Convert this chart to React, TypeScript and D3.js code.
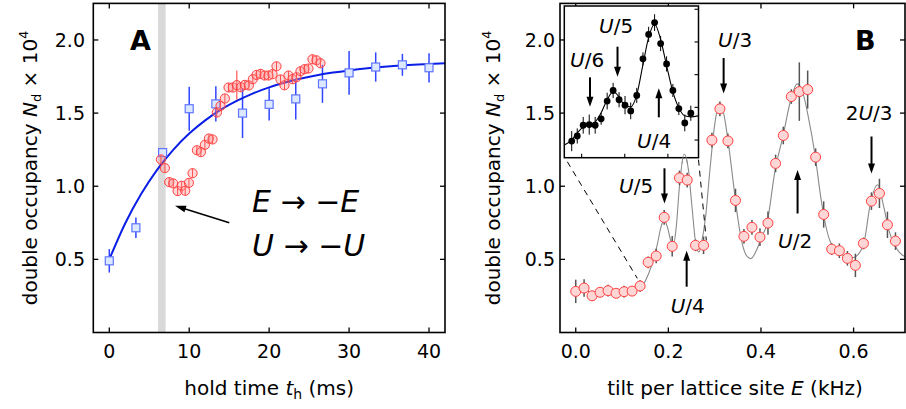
import * as d3 from "d3";

// ── Panel A: hold-time data ───────────────────────────────
const holdT   = [0, 3.33, 6.67, 10, 13.33, 16.67, 20, 23.33, 26.67, 30, 33.33, 36.67, 40];
const holdN   = [0.49, 0.716, 1.23, 1.53, 1.563, 1.5, 1.56, 1.597, 1.7, 1.775, 1.815, 1.83, 1.81];
const holdErr = [0.08, 0.07, 0.03, 0.15, 0.12, 0.17, 0.11, 0.14, 0.13, 0.15, 0.1, 0.075, 0.1];

// red circles after the sign flip
const flipT = [6.46, 6.96, 7.5, 8.0, 8.55, 9.05, 9.5, 9.96, 10.42, 10.96, 11.46, 11.96, 12.46, 12.92,
  13.46, 13.92, 14.46, 14.92, 15.46, 15.96, 16.46, 16.96, 17.46, 17.96, 18.42, 18.92, 19.42, 19.92,
  20.42, 20.92, 21.42, 21.92, 22.42, 22.92, 23.42, 23.92, 24.42, 24.92, 25.42, 25.92, 26.42];
const flipN = [1.183, 1.124, 1.028, 1.019, 0.967, 1.003, 0.969, 1.023, 1.089, 1.246, 1.233, 1.283,
  1.326, 1.32, 1.504, 1.549, 1.6, 1.675, 1.675, 1.691, 1.677, 1.693, 1.689, 1.732, 1.761, 1.768,
  1.757, 1.757, 1.766, 1.82, 1.73, 1.69, 1.757, 1.732, 1.745, 1.786, 1.8, 1.805, 1.868, 1.861, 1.841];
const flipErr = [0.03, 0.03, 0.03, 0.03, 0.03, 0.03, 0.03, 0.03, 0.03, 0.03, 0.03, 0.03, 0.03, 0.03,
  0.03, 0.03, 0.03, 0.03, 0.03, 0.1, 0.03, 0.03, 0.03, 0.03, 0.03, 0.03, 0.03, 0.03, 0.03, 0.03,
  0.03, 0.03, 0.03, 0.03, 0.03, 0.03, 0.03, 0.03, 0.03, 0.03, 0.03];

// blue fit line
const fitT = [0, 2, 4, 6, 8, 10, 12, 14, 16, 18, 20, 22, 24, 26, 28, 30, 32, 34, 36, 38, 40, 42];
const fitN = [0.5, 0.747, 0.948, 1.114, 1.249, 1.36, 1.45, 1.525, 1.585, 1.635, 1.676, 1.709,
  1.737, 1.759, 1.777, 1.792, 1.805, 1.815, 1.823, 1.83, 1.835, 1.84];

// ── Panel B: tilt spectrum ────────────────────────────────
const tiltE = [0, 0.018, 0.0352, 0.0525, 0.0698, 0.0871, 0.1044, 0.1217, 0.139, 0.1563, 0.1737,
  0.191, 0.2083, 0.224, 0.2407, 0.2587, 0.276, 0.294, 0.3113, 0.3286, 0.345, 0.3632, 0.3805,
  0.3978, 0.4151, 0.4316, 0.4482, 0.4655, 0.4828, 0.5008, 0.518, 0.5354, 0.5527, 0.5693, 0.5866,
  0.6039, 0.6212, 0.6385, 0.6558, 0.6731, 0.6904];
const tiltN = [0.281, 0.304, 0.251, 0.275, 0.286, 0.268, 0.279, 0.283, 0.318, 0.48, 0.523, 0.787,
  0.589, 1.057, 1.042, 0.596, 0.596, 1.315, 1.529, 1.31, 0.903, 0.657, 0.719, 0.652, 0.748, 1.156,
  1.347, 1.613, 1.647, 1.661, 1.199, 0.807, 0.57, 0.559, 0.507, 0.459, 0.609, 0.898, 0.951, 0.736, 0.625];
const tiltErr = [0.08, 0.06, 0.03, 0.03, 0.04, 0.03, 0.04, 0.03, 0.04, 0.04, 0.05, 0.05, 0.07, 0.05,
  0.05, 0.04, 0.06, 0.05, 0.05, 0.05, 0.08, 0.05, 0.05, 0.06, 0.08, 0.06, 0.06, 0.05, 0.2, 0.13,
  0.06, 0.09, 0.04, 0.05, 0.05, 0.08, 0.04, 0.06, 0.1, 0.09, 0.06];

// gray fit through the spectrum
const specE = [0, 0.05, 0.1, 0.13, 0.146, 0.157, 0.168, 0.176, 0.184, 0.191, 0.198, 0.205, 0.211,
  0.217, 0.224, 0.234, 0.243, 0.251, 0.26, 0.266, 0.272, 0.28, 0.29, 0.3, 0.311, 0.32, 0.329, 0.34,
  0.35, 0.36, 0.37, 0.378, 0.39, 0.4, 0.413, 0.43, 0.448, 0.465, 0.478, 0.49, 0.5008, 0.5174, 0.528,
  0.535, 0.5497, 0.5714, 0.5967, 0.605, 0.622, 0.6363, 0.652, 0.665, 0.676, 0.6904, 0.705, 0.711];
const specN = [0.28, 0.28, 0.285, 0.295, 0.33, 0.4, 0.5, 0.6, 0.72, 0.77, 0.72, 0.63, 0.6,
  0.72, 1.0, 1.22, 1.12, 0.86, 0.59, 0.55, 0.62, 0.78, 1.12, 1.42, 1.57, 1.49, 1.31, 1.03,
  0.78, 0.6, 0.52, 0.505, 0.56, 0.64, 0.746, 1.1, 1.35, 1.6, 1.7, 1.645, 1.497, 1.2, 0.95,
  0.81, 0.62, 0.541, 0.511, 0.52, 0.609, 0.882, 1.01, 0.86, 0.7, 0.586, 0.53, 0.52];

// ── Inset: zoom on the U/6 … U/4 range ────────────────────
const insE = [0.1385, 0.1449, 0.1518, 0.1588, 0.1657, 0.1726, 0.1796, 0.1865, 0.1934, 0.2003,
  0.2069, 0.2139, 0.2211, 0.2277, 0.2346, 0.2416, 0.2485, 0.2558, 0.2627, 0.2696, 0.2766];
const insN = [0.242, 0.281, 0.363, 0.368, 0.363, 0.412, 0.548, 0.629, 0.558, 0.517, 0.473, 0.591,
  0.871, 1.058, 1.148, 0.988, 0.832, 0.629, 0.491, 0.381, 0.455];
const insErr = [0.077, 0.058, 0.064, 0.077, 0.064, 0.045, 0.064, 0.058, 0.058, 0.07, 0.064, 0.058,
  0.05, 0.058, 0.064, 0.058, 0.058, 0.05, 0.05, 0.064, 0.058];
const insFitE = [0.1299, 0.1385, 0.1449, 0.1518, 0.1588, 0.1657, 0.1726, 0.1796, 0.1865, 0.1934,
  0.2003, 0.2069, 0.2139, 0.2211, 0.2277, 0.2346, 0.2416, 0.2485, 0.2558, 0.2627, 0.2696, 0.2766, 0.285];
const insFitN = [0.212, 0.25, 0.304, 0.35, 0.365, 0.388, 0.458, 0.558, 0.619, 0.581, 0.512, 0.504,
  0.596, 0.827, 1.035, 1.135, 1.019, 0.819, 0.619, 0.496, 0.435, 0.427, 0.435];

// ── Ticks ─────────────────────────────────────────────────
const nTicks   = [0.5, 1.0, 1.5, 2.0];
const tTicks   = [0, 10, 20, 30, 40];
const eTicks   = [0, 0.2, 0.4, 0.6];
const insETick = [0.15, 0.2, 0.25];
const insNTick = [0.25, 0.5, 0.75, 1.0, 1.25];

// Hubbard U in kHz, sets the resonance arrows
const U_KHZ = 0.958;

// ── Layout ────────────────────────────────────────────────
const W = 906, H = 409;
const FONT = "'DejaVu Sans', 'Liberation Sans', sans-serif";
const PA  = { left: 93.3, right: 445, top: 3.4, bottom: 332.5 };
const PB  = { left: 560, right: 905, top: 3.4, bottom: 332.5 };
const INS = { left: 564.3, right: 698.5, top: 6, bottom: 157.7 };
const TICK = 5;

const xA = d3.scaleLinear().domain([-2, 42]).range([PA.left, PA.right]);
const yN = d3.scaleLinear().domain([0, 2.25]).range([PA.bottom, PA.top]);
const xB = d3.scaleLinear().domain([-0.034, 0.711]).range([PB.left, PB.right]);
const xI = d3.scaleLinear().domain([0.1299, 0.2855]).range([INS.left, INS.right]);
const yI = d3.scaleLinear().domain([0.115, 1.275]).range([INS.bottom, INS.top]);

const lineA = d3.line<number>().x((_, i) => xA(fitT[i])).y(d => yN(d)).curve(d3.curveMonotoneX);
const lineB = d3.line<number>().x((_, i) => xB(specE[i])).y(d => yN(d)).curve(d3.curveMonotoneX);
const lineI = d3.line<number>().x((_, i) => xI(insFitE[i])).y(d => yI(d)).curve(d3.curveMonotoneX);

function Arrow({ x1, y1, x2, y2, sw = 2, hl = 10, hw = 3.5 }: any) {
  const a = Math.atan2(y2 - y1, x2 - x1);
  const c = Math.cos(a), s = Math.sin(a);
  const bx = x2 - hl * c, by = y2 - hl * s;
  const pts = [[x2, y2], [bx - hw * s, by + hw * c], [bx + hw * s, by - hw * c]];
  return (
    <g>
      <line x1={x1} y1={y1} x2={bx + c} y2={by + s} stroke="#000" strokeWidth={sw} />
      <polygon points={pts.map(p => p.join(",")).join(" ")} fill="#000" />
    </g>
  );
}

function Frac({ x, y, pre = "", den, size = 20 }: any) {
  return (
    <text x={x} y={y} fontSize={size} fontFamily={FONT} fill="#000">
      {pre}<tspan fontStyle="italic">U</tspan>/{den}
    </text>
  );
}

// frame + inward ticks on all four sides
function Frame({ box, xs, ys, xScale }: any) {
  return (
    <g stroke="#000" strokeWidth={1.3}>
      {xs.map((t: number) => (
        <g key={"x" + t}>
          <line x1={xScale(t)} x2={xScale(t)} y1={box.bottom} y2={box.bottom - TICK} />
          <line x1={xScale(t)} x2={xScale(t)} y1={box.top} y2={box.top + TICK} />
        </g>
      ))}
      {ys.map((v: number) => (
        <g key={"y" + v}>
          <line x1={box.left} x2={box.left + TICK} y1={yN(v)} y2={yN(v)} />
          <line x1={box.right} x2={box.right - TICK} y1={yN(v)} y2={yN(v)} />
        </g>
      ))}
      <rect x={box.left} y={box.top} width={box.right - box.left} height={box.bottom - box.top}
        fill="none" strokeWidth={1.6} />
    </g>
  );
}

function YLabel({ x }: { x: number }) {
  return (
    <text transform={`translate(${x},${(PA.top + PA.bottom) / 2}) rotate(-90)`}
      textAnchor="middle" fontSize={20} fontFamily={FONT} fill="#000">
      double occupancy <tspan fontStyle="italic">N</tspan>
      <tspan fontSize={13} dy={4}>d</tspan>
      <tspan dy={-4}> × 10</tspan>
      <tspan fontSize={13} dy={-9}>4</tspan>
    </text>
  );
}

export default function App() {
  const fmt = d3.format(".1f");
  return (
    <svg width={W} height={H} viewBox={`0 0 ${W} ${H}`}
      style={{ position: "absolute", left: 0, top: 0, background: "#fff", display: "block" }}>

      {/* ── Panel A ── */}
      <rect x={xA(6.1)} y={PA.top} width={xA(7.05) - xA(6.1)} height={PA.bottom - PA.top} fill="#d9d9d9" />

      {holdT.map((t, i) => (
        <line key={"be" + i} x1={xA(t)} x2={xA(t)}
          y1={yN(holdN[i] - holdErr[i])} y2={yN(holdN[i] + holdErr[i])}
          stroke="#2f45ff" strokeWidth={1.5} />
      ))}
      <path d={lineA(fitN) || ""} fill="none" stroke="#0a1ee6" strokeWidth={2} />
      {holdT.map((t, i) => (
        <rect key={"bs" + i} x={xA(t) - 4} y={yN(holdN[i]) - 4} width={8} height={8}
          fill="#dbe8ff" stroke="#5f74ff" strokeWidth={1.2} />
      ))}
      {flipT.map((t, i) => (
        <line key={"re" + i} x1={xA(t)} x2={xA(t)}
          y1={yN(flipN[i] - flipErr[i])} y2={yN(flipN[i] + flipErr[i])}
          stroke="#ff3030" strokeWidth={1} />
      ))}
      {flipT.map((t, i) => (
        <circle key={"rc" + i} cx={xA(t)} cy={yN(flipN[i])} r={4.6}
          fill="rgba(255,140,140,0.35)" stroke="#ff4040" strokeWidth={1} />
      ))}

      <Frame box={PA} xs={tTicks} ys={nTicks} xScale={xA} />

      {nTicks.map(v => (
        <text key={"ay" + v} x={85} y={yN(v) + 6.8} textAnchor="end"
          fontSize={19} fontFamily={FONT}>{fmt(v)}</text>
      ))}
      {tTicks.map(t => (
        <text key={"ax" + t} x={xA(t)} y={358} textAnchor="middle"
          fontSize={19} fontFamily={FONT}>{t}</text>
      ))}
      <text x={(PA.left + PA.right) / 2} y={395} textAnchor="middle" fontSize={20} fontFamily={FONT}>
        hold time <tspan fontStyle="italic">t</tspan>
        <tspan fontSize={14} dy={4}>h</tspan>
        <tspan dy={-4}> (ms)</tspan>
      </text>
      <YLabel x={36.5} />

      <text x={130} y={50} fontSize={27} fontWeight="bold" fontFamily={FONT}>A</text>

      <text x={252} y={211.7} fontSize={30} fontFamily={FONT}>
        <tspan fontStyle="italic">E</tspan> → −<tspan fontStyle="italic">E</tspan>
      </text>
      <text x={252} y={256} fontSize={30} fontFamily={FONT}>
        <tspan fontStyle="italic">U</tspan> → −<tspan fontStyle="italic">U</tspan>
      </text>
      <Arrow x1={229.3} y1={222.7} x2={175} y2={205.7} sw={1.6} hl={11} hw={3.5} />

      {/* ── Panel B ── */}
      <path d={lineB(specN) || ""} fill="none" stroke="#8a8a8a" strokeWidth={1.1} />
      {tiltE.map((e, i) => (
        <line key={"te" + i} x1={xB(e)} x2={xB(e)}
          y1={yN(tiltN[i] - tiltErr[i])} y2={yN(tiltN[i] + tiltErr[i])}
          stroke="#555" strokeWidth={1.5} />
      ))}
      {tiltE.map((e, i) => (
        <circle key={"tc" + i} cx={xB(e)} cy={yN(tiltN[i])} r={5}
          fill="#ffd6d6" stroke="#ff4040" strokeWidth={1} />
      ))}

      {/* zoom guides */}
      <line x1={INS.left + 3} y1={INS.bottom + 4} x2={xB(0.133)} y2={yN(0.37)}
        stroke="#000" strokeWidth={1} strokeDasharray="6 5" />
      <line x1={INS.right} y1={INS.bottom + 2} x2={xB(0.282)} y2={yN(0.63)}
        stroke="#000" strokeWidth={1} strokeDasharray="6 5" />

      <Frame box={PB} xs={eTicks} ys={nTicks} xScale={xB} />

      {/* ── Inset ── */}
      <rect x={INS.left} y={INS.top} width={INS.right - INS.left} height={INS.bottom - INS.top}
        fill="#fff" stroke="#000" strokeWidth={1.5} />
      <g stroke="#000" strokeWidth={1.1}>
        {insETick.map(e => (
          <line key={"ie" + e} x1={xI(e)} x2={xI(e)} y1={INS.bottom} y2={INS.bottom - 4} />
        ))}
        {insNTick.map(v => (
          <line key={"in" + v} x1={INS.right} x2={INS.right - 4} y1={yI(v)} y2={yI(v)} />
        ))}
      </g>
      <path d={lineI(insFitN) || ""} fill="none" stroke="#000" strokeWidth={1.1} />
      {insE.map((e, i) => (
        <line key={"ier" + i} x1={xI(e)} x2={xI(e)}
          y1={yI(insN[i] - insErr[i])} y2={yI(insN[i] + insErr[i])}
          stroke="#000" strokeWidth={1} />
      ))}
      {insE.map((e, i) => (
        <circle key={"id" + i} cx={xI(e)} cy={yI(insN[i])} r={3.4} fill="#000" />
      ))}

      {/* peak of the main fit pokes over the inset edge */}
      <path d={lineB(specN) || ""} fill="none" stroke="#8a8a8a" strokeWidth={1.1}
        clipPath="url(#pokeClip)" />
      <defs>
        <clipPath id="pokeClip">
          <rect x={xB(0.22)} y={INS.bottom - 6} width={xB(0.25) - xB(0.22)} height={12} />
        </clipPath>
      </defs>

      {nTicks.map(v => (
        <text key={"by" + v} x={555} y={yN(v) + 6.8} textAnchor="end"
          fontSize={19} fontFamily={FONT}>{fmt(v)}</text>
      ))}
      {eTicks.map(e => (
        <text key={"bx" + e} x={xB(e)} y={358} textAnchor="middle"
          fontSize={19} fontFamily={FONT}>{fmt(e)}</text>
      ))}
      <text x={735} y={395} textAnchor="middle" fontSize={20} fontFamily={FONT}>
        tilt per lattice site <tspan fontStyle="italic">E</tspan> (kHz)
      </text>
      <YLabel x={500} />

      <text x={855} y={50} fontSize={27} fontWeight="bold" fontFamily={FONT}>B</text>

      {/* resonance labels, main panel */}
      <Frac x={718} y={47} den={3} />
      <Arrow x1={xB(U_KHZ / 3)} y1={58} x2={xB(U_KHZ / 3)} y2={93.5} />
      <Frac x={845.7} y={120} pre="2" den={3} />
      <Arrow x1={xB(2 * U_KHZ / 3)} y1={136.5} x2={xB(2 * U_KHZ / 3)} y2={173.5} />
      <Frac x={778} y={248} den={2} />
      <Arrow x1={xB(U_KHZ / 2)} y1={213.5} x2={xB(U_KHZ / 2)} y2={170} />
      <Frac x={619} y={193} den={5} />
      <Arrow x1={xB(U_KHZ / 5)} y1={168.3} x2={xB(U_KHZ / 5)} y2={203.5} />
      <Frac x={670.7} y={313} den={4} />
      <Arrow x1={xB(U_KHZ / 4)} y1={286.7} x2={xB(U_KHZ / 4)} y2={250.7} />

      {/* resonance labels, inset */}
      <Frac x={570} y={66.7} den={6} />
      <Arrow x1={xI(U_KHZ / 6)} y1={77.3} x2={xI(U_KHZ / 6)} y2={106.7} />
      <Frac x={599} y={33} den={5} />
      <Arrow x1={xI(U_KHZ / 5)} y1={46.7} x2={xI(U_KHZ / 5)} y2={76.7} />
      <Frac x={637} y={148} den={4} />
      <Arrow x1={xI(U_KHZ / 4)} y1={117.3} x2={xI(U_KHZ / 4)} y2={88.3} />
    </svg>
  );
}
